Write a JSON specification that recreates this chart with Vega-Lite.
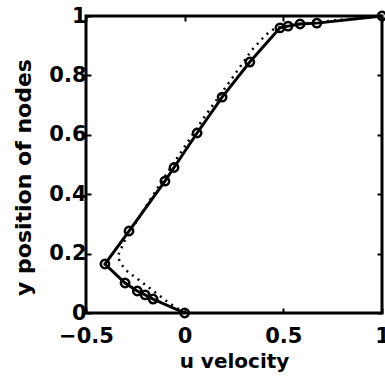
{
  "$schema": "https://vega.github.io/schema/vega-lite/v6.json",
  "width": 296,
  "height": 297,
  "autosize": {"type": "none"},
  "padding": {"left": 86, "top": 16, "right": 3, "bottom": 71},
  "background": "white",
  "config": {
    "view": {"stroke": "black", "strokeWidth": 3},
    "font": "DejaVu Sans",
    "axis": {
      "grid": false,
      "domain": false,
      "labelFlush": false,
      "tickColor": "black",
      "tickWidth": 2,
      "tickSize": -5,
      "labelFont": "DejaVu Sans",
      "labelFontWeight": "bold",
      "labelFontSize": 21,
      "labelColor": "black",
      "titleFont": "DejaVu Sans",
      "titleFontWeight": "bold",
      "titleColor": "black"
    }
  },
  "datasets": {
    "computed": [
      {"u": 0.0, "y": 0.0},
      {"u": -0.16, "y": 0.047},
      {"u": -0.2, "y": 0.061},
      {"u": -0.24, "y": 0.074},
      {"u": -0.302, "y": 0.101},
      {"u": -0.404, "y": 0.165},
      {"u": -0.282, "y": 0.276},
      {"u": -0.1, "y": 0.444},
      {"u": -0.054, "y": 0.49},
      {"u": 0.063, "y": 0.606},
      {"u": 0.19, "y": 0.727},
      {"u": 0.33, "y": 0.845},
      {"u": 0.483, "y": 0.96},
      {"u": 0.524, "y": 0.966},
      {"u": 0.585, "y": 0.973},
      {"u": 0.67, "y": 0.976},
      {"u": 1.0, "y": 1.0}
    ],
    "reference": [
      {"u": 0.0, "y": 0.0},
      {"u": -0.08, "y": 0.034},
      {"u": -0.16, "y": 0.075},
      {"u": -0.24, "y": 0.115},
      {"u": -0.29, "y": 0.14},
      {"u": -0.32, "y": 0.163},
      {"u": -0.34, "y": 0.19},
      {"u": -0.3, "y": 0.25},
      {"u": -0.1, "y": 0.46},
      {"u": 0.1, "y": 0.66},
      {"u": 0.245, "y": 0.795},
      {"u": 0.34, "y": 0.885},
      {"u": 0.41, "y": 0.936},
      {"u": 0.46, "y": 0.96},
      {"u": 0.6, "y": 0.975},
      {"u": 1.0, "y": 1.0}
    ]
  },
  "layer": [
    {
      "layer": [
        {
          "data": {"name": "reference"},
          "mark": {"type": "line", "color": "black", "strokeWidth": 2.5, "strokeDash": [2, 5], "clip": false},
          "encoding": {
            "x": {"field": "u", "type": "quantitative", "scale": {"domain": [-0.5, 1], "nice": false, "zero": false},
                  "axis": {"orient": "bottom", "title": "u velocity", "titleFontSize": 20, "values": [-0.5, 0, 0.5, 1], "format": "~g", "labelPadding": 17, "titlePadding": 5}},
            "y": {"field": "y", "type": "quantitative", "scale": {"domain": [0, 1], "nice": false},
                  "axis": {"orient": "left", "title": "y position of nodes", "titleFontSize": 22, "titleY": 161, "values": [0, 0.2, 0.4, 0.6, 0.8, 1], "format": "~g", "labelPadding": 5, "titlePadding": 13}},
            "order": {"value": null}
          }
        },
        {
          "data": {"name": "computed"},
          "mark": {"type": "line", "color": "black", "strokeWidth": 3, "clip": false},
          "encoding": {
            "x": {"field": "u", "type": "quantitative"},
            "y": {"field": "y", "type": "quantitative"},
            "order": {"value": null}
          }
        },
        {
          "data": {"name": "computed"},
          "mark": {"type": "point", "shape": "circle", "filled": false, "stroke": "black", "opacity": 1, "strokeWidth": 2.5, "size": 70, "clip": false},
          "encoding": {
            "x": {"field": "u", "type": "quantitative"},
            "y": {"field": "y", "type": "quantitative"}
          }
        }
      ]
    },
    {
      "data": {"name": "computed"},
      "mark": {"type": "point", "opacity": 0},
      "encoding": {
        "x": {"field": "u", "type": "quantitative", "axis": {"orient": "top", "labels": false, "title": null, "values": [-0.5, 0, 0.5, 1]}},
        "y": {"field": "y", "type": "quantitative", "axis": {"orient": "right", "labels": false, "title": null, "values": [0, 0.2, 0.4, 0.6, 0.8, 1]}}
      }
    }
  ],
  "resolve": {"axis": {"x": "independent", "y": "independent"}}
}
